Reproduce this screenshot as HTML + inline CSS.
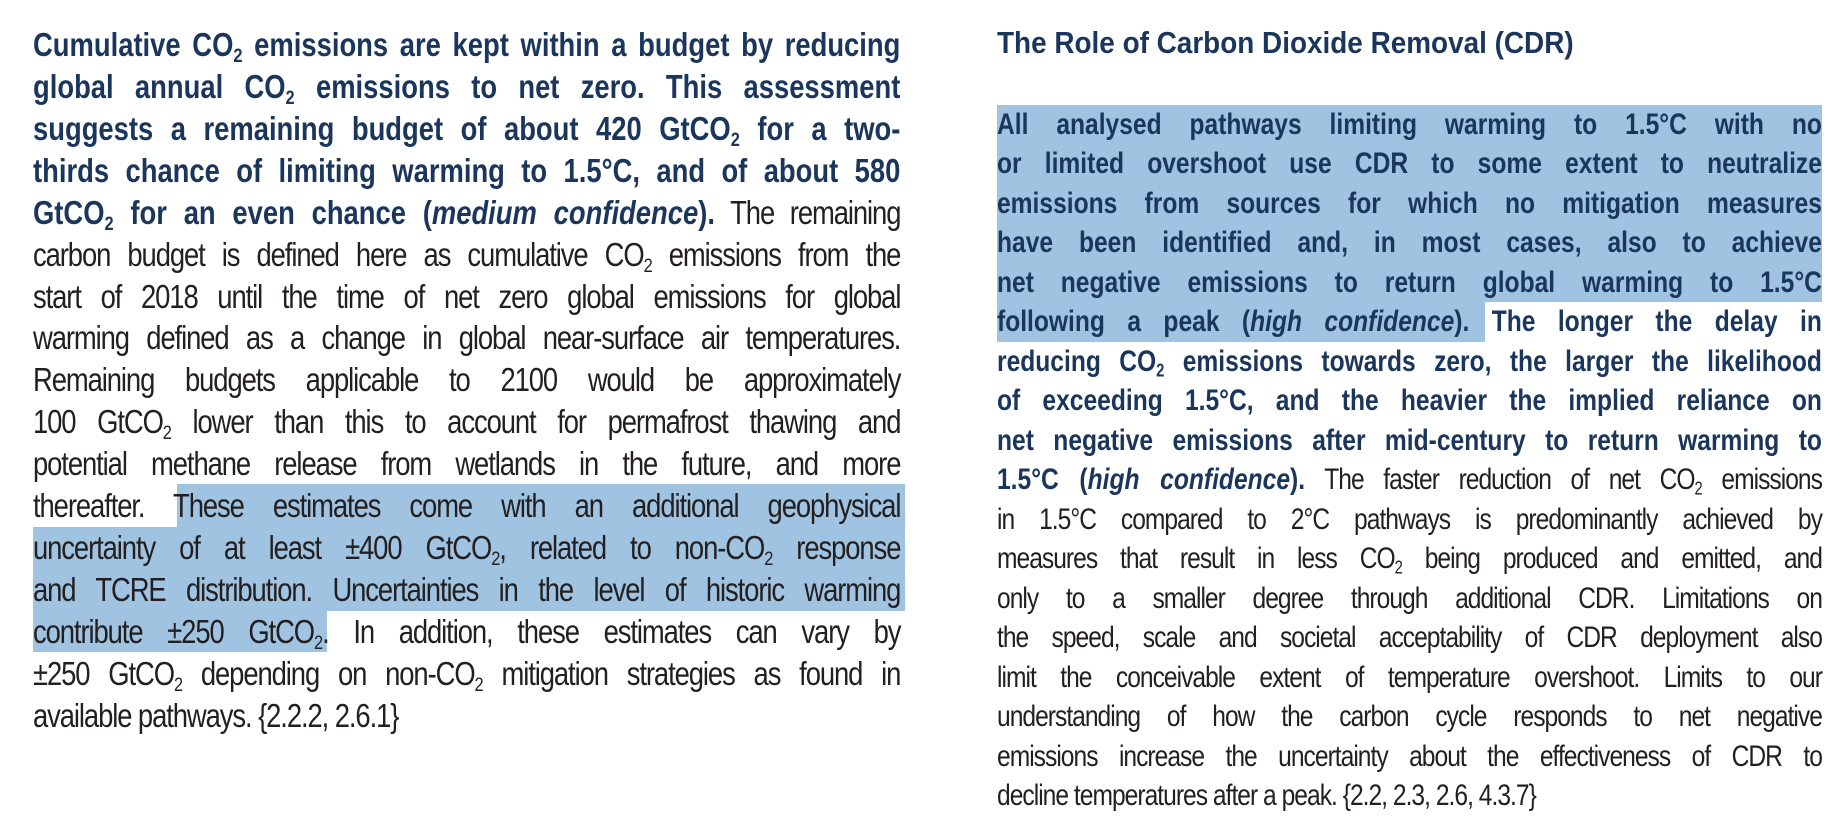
<!DOCTYPE html>
<html><head><meta charset="utf-8">
<style>
html,body{margin:0;padding:0;background:#fff;}
#page{position:relative;width:1848px;height:836px;overflow:hidden;background:#fff;}
.hl{position:absolute;background:#9fc3e0;}
.ln{position:absolute;white-space:nowrap;transform-origin:0 50%;text-align:justify;text-align-last:justify;font-family:"Liberation Sans",sans-serif;color:#231f20;letter-spacing:-1.3px;}
.L{left:33px;width:1045px;transform:scaleX(0.83);font-size:33px;height:42px;line-height:42px;}
.R{left:997px;width:1006px;transform:scaleX(0.82);font-size:30px;height:40px;line-height:40px;letter-spacing:-1.2px;}
.T{left:997px;width:900px;transform:scaleX(0.9);font-size:31px;height:40px;line-height:40px;letter-spacing:0;}
.b{font-weight:bold;color:#1b365d;letter-spacing:0px;}
.i{font-style:italic;}
.last{text-align-last:left;}
sub{font-size:0.6em;vertical-align:-0.3em;line-height:0;}
</style></head>
<body>
<div id="page">
<div class="hl" style="left:177px;top:484px;width:728px;height:43px"></div>
<div class="hl" style="left:33px;top:527px;width:872px;height:84px"></div>
<div class="hl" style="left:33px;top:611px;width:294px;height:41px"></div>
<div class="hl" style="left:997px;top:105px;width:825px;height:197px"></div>
<div class="hl" style="left:997px;top:302px;width:488px;height:40px"></div>

<div>
<div class="ln L" style="top:24px"><span class="b">Cumulative CO<sub>2</sub> emissions are kept within a budget by reducing</span></div>
<div class="ln L" style="top:66px"><span class="b">global annual CO<sub>2</sub> emissions to net zero. This assessment</span></div>
<div class="ln L" style="top:108px"><span class="b">suggests a remaining budget of about 420 GtCO<sub>2</sub> for a two-</span></div>
<div class="ln L" style="top:150px"><span class="b">thirds chance of limiting warming to 1.5°C, and of about 580</span></div>
<div class="ln L" style="top:192px"><span class="b">GtCO<sub>2</sub> for an even chance (<span class="i">medium confidence</span>).</span> The remaining</div>
<div class="ln L" style="top:234px">carbon budget is defined here as cumulative CO<sub>2</sub> emissions from the</div>
<div class="ln L" style="top:276px">start of 2018 until the time of net zero global emissions for global</div>
<div class="ln L" style="top:317px">warming defined as a change in global near-surface air temperatures.</div>
<div class="ln L" style="top:359px">Remaining budgets applicable to 2100 would be approximately</div>
<div class="ln L" style="top:401px">100 GtCO<sub>2</sub> lower than this to account for permafrost thawing and</div>
<div class="ln L" style="top:443px">potential methane release from wetlands in the future, and more</div>
<div class="ln L" style="top:485px">thereafter. These estimates come with an additional geophysical</div>
<div class="ln L" style="top:527px">uncertainty of at least ±400 GtCO<sub>2</sub>, related to non-CO<sub>2</sub> response</div>
<div class="ln L" style="top:569px">and TCRE distribution. Uncertainties in the level of historic warming</div>
<div class="ln L" style="top:611px">contribute ±250 GtCO<sub>2</sub>. In addition, these estimates can vary by</div>
<div class="ln L" style="top:653px">±250 GtCO<sub>2</sub> depending on non-CO<sub>2</sub> mitigation strategies as found in</div>
<div class="ln L last" style="top:695px">available pathways. {2.2.2, 2.6.1}</div>
</div>

<div>
<div class="ln T last b" style="top:23px;color:#1b365d">The Role of Carbon Dioxide Removal (CDR)</div>
<div class="ln R" style="top:105px"><span class="b">All analysed pathways limiting warming to 1.5°C with no</span></div>
<div class="ln R" style="top:144px"><span class="b">or limited overshoot use CDR to some extent to neutralize</span></div>
<div class="ln R" style="top:184px"><span class="b">emissions from sources for which no mitigation measures</span></div>
<div class="ln R" style="top:223px"><span class="b">have been identified and, in most cases, also to achieve</span></div>
<div class="ln R" style="top:263px"><span class="b">net negative emissions to return global warming to 1.5°C</span></div>
<div class="ln R" style="top:302px"><span class="b">following a peak (<span class="i">high confidence</span>). The longer the delay in</span></div>
<div class="ln R" style="top:342px"><span class="b">reducing CO<sub>2</sub> emissions towards zero, the larger the likelihood</span></div>
<div class="ln R" style="top:381px"><span class="b">of exceeding 1.5°C, and the heavier the implied reliance on</span></div>
<div class="ln R" style="top:421px"><span class="b">net negative emissions after mid-century to return warming to</span></div>
<div class="ln R" style="top:460px"><span class="b">1.5°C (<span class="i">high confidence</span>).</span> The faster reduction of net CO<sub>2</sub> emissions</div>
<div class="ln R" style="top:500px">in 1.5°C compared to 2°C pathways is predominantly achieved by</div>
<div class="ln R" style="top:539px">measures that result in less CO<sub>2</sub> being produced and emitted, and</div>
<div class="ln R" style="top:579px">only to a smaller degree through additional CDR. Limitations on</div>
<div class="ln R" style="top:618px">the speed, scale and societal acceptability of CDR deployment also</div>
<div class="ln R" style="top:658px">limit the conceivable extent of temperature overshoot. Limits to our</div>
<div class="ln R" style="top:697px">understanding of how the carbon cycle responds to net negative</div>
<div class="ln R" style="top:737px">emissions increase the uncertainty about the effectiveness of CDR to</div>
<div class="ln R last" style="top:776px">decline temperatures after a peak. {2.2, 2.3, 2.6, 4.3.7}</div>
</div>
</div>
</body></html>
